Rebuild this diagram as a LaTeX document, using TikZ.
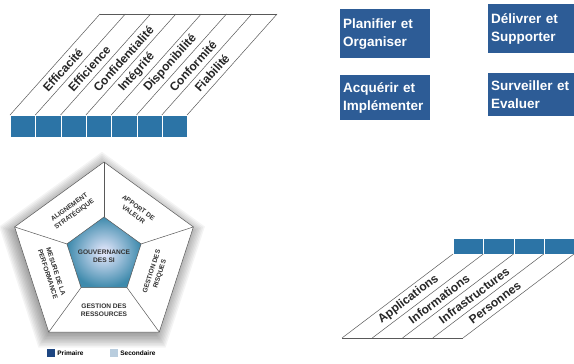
\documentclass[tikz,border=0pt]{standalone}
\usepackage{fontspec}
\setmainfont{Liberation Sans}
\usetikzlibrary{calc}
\definecolor{cubeblue}{RGB}{44,116,166}
\definecolor{boxblue}{RGB}{45,92,150}
\definecolor{navyblue}{RGB}{30,70,130}
\definecolor{paleblue}{RGB}{185,205,222}
\definecolor{tealblue}{RGB}{62,138,172}

\begin{document}
\begin{tikzpicture}[x=1pt,y=-1pt,
    cell/.style={draw=white,line width=0.6pt,fill=cubeblue,inner sep=0pt,anchor=north west},
    gridline/.style={draw=black!65,line width=0.5pt},
    critlabel/.style={font=\bfseries\fontsize{12}{12}\selectfont,text=black!85,inner sep=0pt,anchor=west},
    domainbox/.style={fill=boxblue,text=white,font=\bfseries\fontsize{13.5}{18}\selectfont,align=left,inner sep=3pt,anchor=north west},
    areatext/.style={font=\bfseries\fontsize{6.6}{8.5}\selectfont,text=black!80,align=center,inner sep=0pt}]
    \useasboundingbox (0,0) rectangle (574,364);

    %critères d'information
    \foreach \i in {0,...,6}
        \node[cell,minimum width=25.3pt,minimum height=22pt] (c\i) at (10+25.3*\i,115) {};
    \foreach \i in {0,...,7}{
        \coordinate (b\i) at (10+25.3*\i,115);
        \coordinate (t\i) at (100+25.3*\i,14);
        \draw[gridline] (b\i)--(t\i);
    }
    \draw[gridline] (t0)--(t7);
    \foreach \lab [count=\i from 0] in {Efficacité,Efficience,Confidentialité,Intégrité,Disponibilité,Conformité,Fiabilité}
        \node[critlabel,rotate=48] (k\i) at (44.9+25.3*\i,90) {\lab};

    %domaines
    \node[domainbox,text width=84pt,minimum height=49pt] (po) at (340,9) {Planifier et\\Organiser};
    \node[domainbox,text width=84pt,minimum height=45pt] (ai) at (340,75) {Acquérir et\\Implémenter};
    \node[domainbox,text width=80pt,minimum height=49pt] (ds) at (488,4) {Délivrer et\\Supporter};
    \node[domainbox,text width=80pt,minimum height=43pt] (se) at (488,73) {Surveiller et\\Evaluer};

    %ressources
    \foreach \i in {0,...,3}
        \node[cell,minimum width=30.25pt,minimum height=16pt] (r\i) at (453+30.25*\i,238) {};
    \foreach \i in {0,...,4}{
        \coordinate (u\i) at (453+30.25*\i,254);
        \coordinate (d\i) at (342+30.25*\i,338);
        \draw[gridline] (u\i)--(d\i);
    }
    \draw[gridline] (d0)--(d4);
    \foreach \lab [count=\i from 0] in {Applications,Informations,Infrastructures,Personnes}
        \node[critlabel,rotate=37] (s\i) at (379.6+30.25*\i,321) {\lab};

    %pentagone de la gouvernance
    \coordinate (ctr) at (104,256);
    \foreach \a [count=\i] in {-90,-18,54,126,198}{
        \coordinate (o\i) at ($(ctr)+(\a:94)$);
        \coordinate (n\i) at ($(ctr)+(\a:39)$);
    }
    %ombre
    \foreach \k in {0,...,9}
        \fill[black,opacity=0.045,shift={(102,260)}] (-90:92+1.8*\k)--(-18:92+1.8*\k)--(54:92+1.8*\k)--(126:92+1.8*\k)--(198:92+1.8*\k)--cycle;
    \draw[gridline,fill=white] (o1)--(o2)--(o3)--(o4)--(o5)--cycle;
    \foreach \i in {1,...,5}
        \draw[gridline] (o\i)--(n\i);
    \draw[gridline,inner color=blue!8!white,outer color=tealblue] (n1)--(n2)--(n3)--(n4)--(n5)--cycle;
    \node[areatext] (gov) at (104,256) {GOUVERNANCE\\DES SI};
    \node[areatext,rotate=36] (al) at (72,211) {ALIGNEMENT\\STRATÉGIQUE};
    \node[areatext,rotate=-36] (av) at (136,211) {APPORT DE\\VALEUR};
    \node[areatext,rotate=72] (gr) at (156,273) {GESTION DES\\RISQUES};
    \node[areatext] (gs) at (104,310) {GESTION DES\\RESSOURCES};
    \node[areatext,rotate=-72] (mp) at (52,273) {MESURE DE LA\\PERFORMANCE};

    %légende
    \node[fill=navyblue,minimum size=8pt,inner sep=0pt] (lp) at (51,353) {};
    \node[anchor=west,font=\bfseries\fontsize{6.5}{7}\selectfont,inner sep=2pt] (tp) at (lp.east) {Primaire};
    \node[fill=paleblue,minimum size=8pt,inner sep=0pt] (ls) at (114,353) {};
    \node[anchor=west,font=\bfseries\fontsize{6.5}{7}\selectfont,inner sep=2pt] (tsec) at (ls.east) {Secondaire};
\end{tikzpicture}
\end{document}
